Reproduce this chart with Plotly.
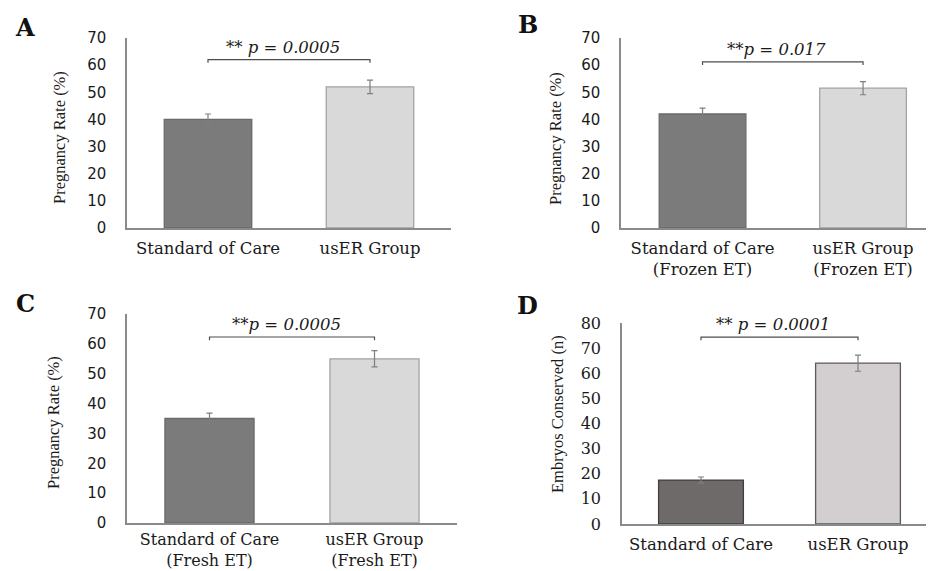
import plotly.graph_objects as go

# ---------------- data ----------------
cats_A = ["Standard of Care", "usER Group"]
vals_A = [40, 52]
err_A = [2.0, 2.5]
p_A = "** <i>p = 0.0005</i>"

cats_B = ["Standard of Care<br>(Frozen ET)", "usER Group<br>(Frozen ET)"]
vals_B = [42, 51.5]
err_B = [2.2, 2.4]
p_B = "**<i>p = 0.017</i>"

cats_C = ["Standard of Care<br>(Fresh ET)", "usER Group<br>(Fresh ET)"]
vals_C = [35, 55]
err_C = [1.8, 2.7]
p_C = "**<i>p = 0.0005</i>"

cats_D = ["Standard of Care", "usER Group"]
vals_D = [17.5, 64]
err_D = [1.2, 3.2]
p_D = "** <i>p = 0.0001</i>"

bracket_level = [62, 61.2, 62.3, 74.4]
y_titles = ["Pregnancy Rate (%)", "Pregnancy Rate (%)", "Pregnancy Rate (%)", "Embryos Conserved (n)"]
y_max = [70, 70, 70, 80]
panel_letters = ["A", "B", "C", "D"]

# ---------------- styling ----------------
W, H = 934, 571
OFF = 8  # page body margin
def px(x): return (x - OFF) / W
def py(y): return 1 - (y - OFF) / H

serif = "Liberation Serif, Times New Roman, serif"
wserif = "DejaVu Serif, serif"
sans = "DejaVu Sans, sans-serif"

panels = [
    dict(cats=cats_A, vals=vals_A, err=err_A, p=p_A,
         xdom=[px(127), px(451)], ydom=[py(228), py(38)], xr=[-0.5, 1.5],
         cols=["#7b7b7b", "#d9d9d9"], lines=["#6a6a6a", "#a3a3a3"],
         tickfont=dict(family=sans, size=15, color="#1a1a1a"),
         xfont=16.5, xstand=4,
         ytitle_xy=(60, 138), letter_xy=(25, 27)),
    dict(cats=cats_B, vals=vals_B, err=err_B, p=p_B,
         xdom=[px(621), px(934)], ydom=[py(228), py(38)], xr=[-0.508, 1.442],
         cols=["#7b7b7b", "#d9d9d9"], lines=["#6a6a6a", "#a3a3a3"],
         tickfont=dict(family=sans, size=15, color="#1a1a1a"),
         xfont=16.5, xstand=4,
         ytitle_xy=(555, 139), letter_xy=(528, 25)),
    dict(cats=cats_C, vals=vals_C, err=err_C, p=p_C,
         xdom=[px(127), px(457)], ydom=[py(523), py(314)], xr=[-0.5, 1.5],
         cols=["#7b7b7b", "#d9d9d9"], lines=["#6a6a6a", "#a3a3a3"],
         tickfont=dict(family=sans, size=15, color="#1a1a1a"),
         xfont=16, xstand=1,
         ytitle_xy=(53, 423), letter_xy=(25, 303)),
    dict(cats=cats_D, vals=vals_D, err=err_D, p=p_D,
         xdom=[px(622), px(934)], ydom=[py(524), py(323)], xr=[-0.503, 1.484],
         cols=["#6f6a6a", "#d3cfd0"], lines=["#3f3f3f", "#5a5a5a"],
         tickfont=dict(family=wserif, size=16, color="#1a1a1a"),
         xfont=16.5, xstand=4,
         ytitle_xy=(557, 414), letter_xy=(527, 305)),
]

fig = go.Figure()
layout = dict(template="none", width=W, height=H,
              margin=dict(l=0, r=0, t=0, b=0, pad=0, autoexpand=False),
              paper_bgcolor="white", plot_bgcolor="white", showlegend=False)
annotations = []
shapes = []

for i, pn in enumerate(panels):
    k = "" if i == 0 else str(i + 1)
    xs = list(range(len(pn["cats"])))
    fig.add_trace(go.Bar(
        x=xs, y=pn["vals"], width=0.54,
        marker=dict(color=pn["cols"], line=dict(color=pn["lines"], width=1.3)),
        error_y=dict(type="data", array=pn["err"], visible=True,
                     color="#7f7f7f", thickness=1.2, width=3),
        xaxis="x" + k, yaxis="y" + k,
    ))
    layout["xaxis" + k] = dict(
        domain=pn["xdom"], range=pn["xr"], anchor="y" + k, automargin=False,
        tickvals=xs, ticktext=pn["cats"], showgrid=False, zeroline=False,
        showline=True, linecolor="#8a8a8a", linewidth=1.5, ticks="",
        ticklabelstandoff=pn["xstand"],
        tickfont=dict(family=wserif, size=pn["xfont"], color="#1a1a1a"),
    )
    layout["yaxis" + k] = dict(
        domain=pn["ydom"], range=[0, y_max[i]], anchor="x" + k, automargin=False,
        dtick=10, showgrid=False, zeroline=False,
        showline=True, linecolor="#8a8a8a", linewidth=1.5, ticks="",
        ticklabelstandoff=16, tickfont=pn["tickfont"],
    )
    # significance bracket (data coordinates)
    lvl = bracket_level[i]
    drop = y_max[i] * 0.016
    shapes.append(dict(type="path", xref="x" + k, yref="y" + k,
                       path=f"M {xs[0]},{lvl - drop} L {xs[0]},{lvl} L {xs[1]},{lvl} L {xs[1]},{lvl - drop}",
                       line=dict(color="#4d4d4d", width=1.2)))
    annotations.append(dict(x=(xs[0] + xs[1]) / 2, y=lvl, xref="x" + k, yref="y" + k,
                            text=pn["p"], showarrow=False, yanchor="bottom", yshift=1, xshift=-6,
                            font=dict(family=wserif, size=16.5, color="#1a1a1a")))
    # y title
    tx, ty = pn["ytitle_xy"]
    annotations.append(dict(x=px(tx), y=py(ty), xref="paper", yref="paper",
                            text=y_titles[i], textangle=-90, showarrow=False,
                            xanchor="center", yanchor="middle",
                            font=dict(family=serif, size=16.5, color="#1a1a1a")))
    # panel letter
    lx, ly = pn["letter_xy"]
    annotations.append(dict(x=px(lx), y=py(ly), xref="paper", yref="paper",
                            text=f"<b>{panel_letters[i]}</b>", showarrow=False,
                            xanchor="center", yanchor="middle",
                            font=dict(family=wserif, size=24, color="#111111")))

layout["annotations"] = annotations
layout["shapes"] = shapes
fig.update_layout(**layout)
fig.write_html("out.html")
